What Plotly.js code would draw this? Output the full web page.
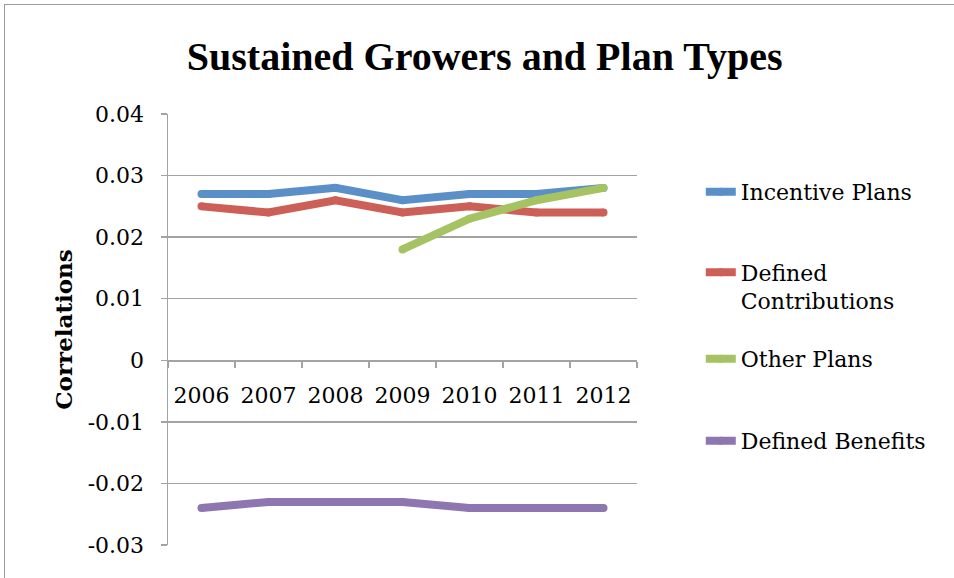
<!DOCTYPE html>
<html>
<head>
<meta charset="utf-8">
<script src="https://cdn.plot.ly/plotly-3.0.1.min.js"></script>
<style>
  html, body { margin: 0; padding: 0; background: #ffffff; }
  #wrap { position: relative; width: 954px; height: 578px; overflow: hidden; }
  #chart { position: absolute; left: 0; top: 0; width: 954px; height: 578px; }
  #frame {
    position: absolute; left: 4px; top: 4px; width: 980px; height: 600px;
    border-top: 1.5px solid #9a9a9a; border-left: 1.5px solid #9a9a9a;
    pointer-events: none;
  }
</style>
</head>
<body>
<div id="wrap">
  <div id="chart"></div>
  <div id="frame"></div>
</div>
<script>
// Years on the category axis
const years = ['2006', '2007', '2008', '2009', '2010', '2011', '2012'];

// Correlation values per plan type
const incentivePlans        = [0.027, 0.027, 0.028, 0.026, 0.027, 0.027, 0.028];
const definedContributions  = [0.025, 0.024, 0.026, 0.024, 0.025, 0.024, 0.024];
const otherPlans            = [null, null, null, 0.018, 0.023, 0.026, 0.028];
const definedBenefits       = [-0.024, -0.023, -0.023, -0.023, -0.024, -0.024, -0.024];

// Series names shown in the legend
const seriesNames = ['Incentive Plans', 'Defined<br>Contributions', 'Other Plans', 'Defined Benefits'];

// Value-axis ticks
const yTickValues = [-0.03, -0.02, -0.01, 0, 0.01, 0.02, 0.03, 0.04];
const yTickLabels = ['-0.03', '-0.02', '-0.01', '0', '0.01', '0.02', '0.03', '0.04'];

const colors = ['#5b8fc7', '#cc5f57', '#a5c363', '#8e76b0'];
const seriesData = [incentivePlans, definedContributions, otherPlans, definedBenefits];
const legendIds = ['legend', 'legend2', 'legend3', 'legend4'];

const BODY_FONT = 'DejaVu Serif, Liberation Serif, serif';
const GRID = '#a3a3a3';

const traces = seriesData.map((vals, i) => ({
  type: 'scatter',
  mode: 'lines+markers',
  x: years,
  y: vals,
  name: seriesNames[i],
  legend: legendIds[i],
  connectgaps: false,
  line: { color: colors[i], width: 8 },
  marker: { color: colors[i], size: 8, line: { width: 0 } },
  hoverinfo: 'skip'
}));

function legendAt(yPaper) {
  return {
    x: 1.136, xanchor: 'left',
    y: yPaper, yanchor: 'middle',
    bgcolor: 'rgba(0,0,0,0)',
    borderwidth: 0,
    valign: 'top',
    font: { family: BODY_FONT, size: 22, color: '#000000' }
  };
}

const layout = {
  width: 954,
  height: 578,
  paper_bgcolor: '#ffffff',
  plot_bgcolor: '#ffffff',
  margin: { l: 168, r: 317, t: 114, b: 33, pad: 0 },
  showlegend: true,
  title: {
    text: '<b>Sustained Growers and Plan Types</b>',
    font: { family: 'Liberation Serif, serif', size: 40, color: '#000000' },
    xref: 'container', x: 0.508, xanchor: 'center',
    yref: 'container', y: 0.903, yanchor: 'middle'
  },
  xaxis: {
    type: 'category',
    range: [-0.5, 6.5],
    anchor: 'free',
    position: 3 / 7,
    showgrid: false,
    zeroline: false,
    showline: true,
    linecolor: GRID,
    linewidth: 1.5,
    ticks: 'outside',
    tickson: 'boundaries',
    ticklen: 6,
    tickwidth: 1.5,
    tickcolor: GRID,
    ticklabelstandoff: 15,
    tickfont: { family: BODY_FONT, size: 22, color: '#000000' }
  },
  yaxis: {
    range: [-0.03, 0.04],
    tickmode: 'array',
    tickvals: yTickValues,
    ticktext: yTickLabels,
    showgrid: true,
    gridcolor: GRID,
    gridwidth: 1.5,
    zeroline: false,
    showline: true,
    linecolor: GRID,
    linewidth: 1.5,
    ticks: 'outside',
    ticklen: 6,
    tickwidth: 1.5,
    tickcolor: GRID,
    ticklabelstandoff: 12,
    tickfont: { family: BODY_FONT, size: 22, color: '#000000' },
    title: {
      text: '<b>Correlations</b>',
      font: { family: BODY_FONT, size: 23, color: '#000000' },
      standoff: 8
    }
  },
  legend: legendAt(0.819),
  legend2: legendAt(0.5986),
  legend3: legendAt(0.4316),
  legend4: legendAt(0.2413)
};

Plotly.newPlot('chart', traces, layout, { staticPlot: true, displayModeBar: false });
</script>
</body>
</html>
